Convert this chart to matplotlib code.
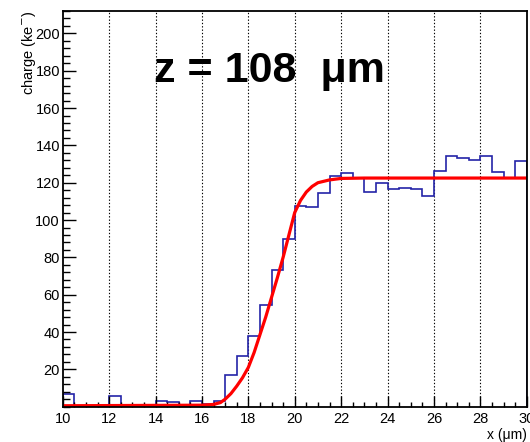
import matplotlib
matplotlib.use('Agg')
from matplotlib import pyplot as plt
from matplotlib.ticker import MultipleLocator

plt.rcParams['font.family'] = ['Liberation Sans', 'DejaVu Sans']

# histogram: 40 bins of 0.5 um from 10 to 30
bin_edges = [10 + 0.5 * i for i in range(41)]
charge = [7, 0, 0, 0, 5.5, 0, 0, 0, 3, 2.5,
          0, 3, 1.5, 3, 17, 27, 38, 54.5, 73, 90,
          107.5, 107, 114.5, 123.5, 125, 122.5, 115, 120, 116.5, 117,
          116.5, 113, 126.5, 134.5, 133, 132, 134.5, 126, 122.5, 131.5]

# fitted curve
fit_x = [10, 16, 16.5, 16.8, 17, 17.25, 17.5, 17.75, 18, 18.25, 18.5, 18.75,
         19, 19.25, 19.5, 19.75, 20, 20.25, 20.5, 20.75, 21, 21.5, 22, 23, 30]
fit_y = [0.5, 0.8, 1.2, 2.2, 4, 7, 11, 15.5, 21, 29, 38.5, 48,
         58.5, 69, 80, 92, 104, 110.5, 115, 118, 120, 121.5, 122.3, 122.5, 122.5]

fig = plt.figure(figsize=(5.3, 4.42), dpi=100)
ax = fig.add_axes([0.1183, 0.0799, 0.8755, 0.8952])

ax.stairs(charge, bin_edges, color='#2424a8', lw=1.2)
ax.plot(fit_x, fit_y, color='#ff0000', lw=2.3)

ax.set_xlim(10, 30)
ax.set_ylim(0, 212)
ax.set_xticks(range(10, 31, 2))
ax.set_yticks(range(20, 201, 20))
ax.xaxis.set_minor_locator(MultipleLocator(0.5))
ax.yaxis.set_minor_locator(MultipleLocator(4))
ax.tick_params(axis='both', which='both', direction='in', labelsize=10.5, colors='black')
ax.tick_params(axis='y', which='major', length=9.4, width=1.0, pad=2)
ax.tick_params(axis='y', which='minor', length=5, width=1.0)
ax.tick_params(axis='x', which='major', length=8, width=1.0, pad=4)
ax.tick_params(axis='x', which='minor', length=3.6, width=1.0)

for gx in range(12, 30, 2):
    ax.axvline(gx, color='black', ls=(0, (1.2, 1.8)), lw=0.8, zorder=0)

for s in ax.spines.values():
    s.set_linewidth(1.3)

ax.set_ylabel('charge (ke$^{-}$)', loc='top', fontsize=10.5, labelpad=-2)
ax.set_xlabel('x (μm)', loc='right', fontsize=10, labelpad=1)

ax.text(18.9, 180, 'z = 108  μm', fontsize=31, fontweight='bold',
        ha='center', va='center')

fig.savefig('out.png', dpi=100)
plt.close()
